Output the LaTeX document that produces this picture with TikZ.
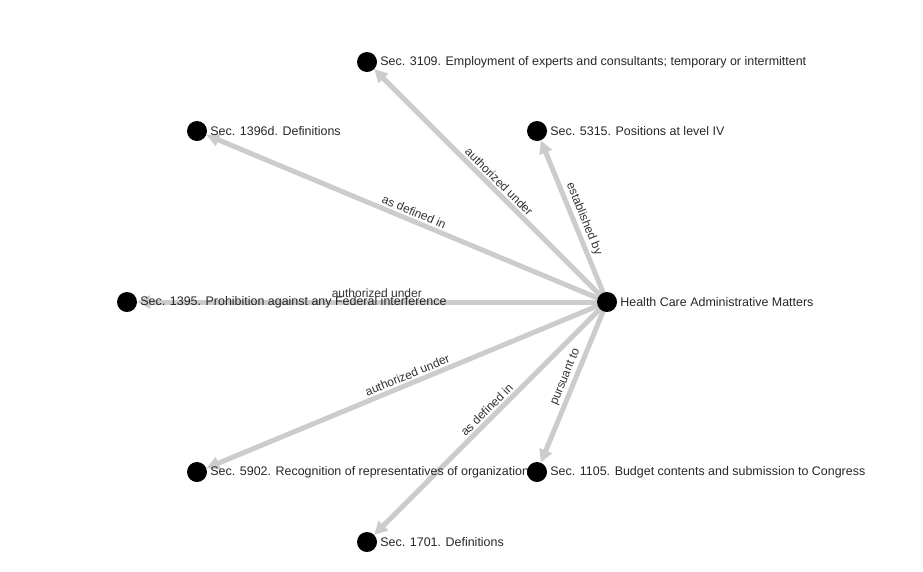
\documentclass[tikz,border=0pt]{standalone}
\usepackage{fontspec}
\setmainfont{Liberation Sans}
\usetikzlibrary{arrows.meta}
\begin{document}
\begin{tikzpicture}[x=1pt,y=-1pt,
  dot/.style={circle,fill=none,minimum size=20pt,inner sep=0pt},
  nlbl/.style={anchor=west,text=black!85,font=\fontsize{12.45}{14}\selectfont,inner sep=0pt,xshift=3pt},
  link/.style={draw=black!20,line width=5pt,-{Triangle[length=13pt,width=13pt]}},
  elbl/.style={pos=0.49,sloped,above,text=black!80,font=\fontsize{12}{14}\selectfont,inner sep=2pt}]
\useasboundingbox (0,0) rectangle (923,571);
\node[dot] (H) at (607,302) {};
\node[dot] (a) at (367,62) {};
\node[dot] (b) at (197,131) {};
\node[dot] (c) at (537,131) {};
\node[dot] (d) at (127,302) {};
\node[dot] (e) at (197,472) {};
\node[dot] (f) at (537,472) {};
\node[dot] (g) at (367,542) {};
\draw[link] (H.center) -- (a) node[elbl] {authorized under};
\draw[link] (H.center) -- (b) node[elbl] {as defined in};
\draw[link] (H.center) -- (c) node[elbl] {established by};
\draw[link] (H.center) -- (d) node[elbl] {authorized under};
\draw[link] (H.center) -- (e) node[elbl] {authorized under};
\draw[link] (H.center) -- (f) node[elbl] {pursuant to};
\draw[link] (H.center) -- (g) node[elbl] {as defined in};
\node[nlbl] (Ht) at (H.east) {Health Care Administrative Matters};
\node[nlbl] (at) at (a.east) {Sec. 3109. Employment of experts and consultants; temporary or intermittent};
\node[nlbl] (bt) at (b.east) {Sec. 1396d. Definitions};
\node[nlbl] (ct) at (c.east) {Sec. 5315. Positions at level IV};
\node[nlbl] (dt) at (d.east) {Sec. 1395. Prohibition against any Federal interference};
\node[nlbl] (et) at (e.east) {Sec. 5902. Recognition of representatives of organizations};
\node[nlbl] (ft) at (f.east) {Sec. 1105. Budget contents and submission to Congress};
\node[nlbl] (gt) at (g.east) {Sec. 1701. Definitions};
\foreach \n in {H,a,b,c,d,e,f,g} \fill[black] (\n) circle (10pt);
\end{tikzpicture}
\end{document}
